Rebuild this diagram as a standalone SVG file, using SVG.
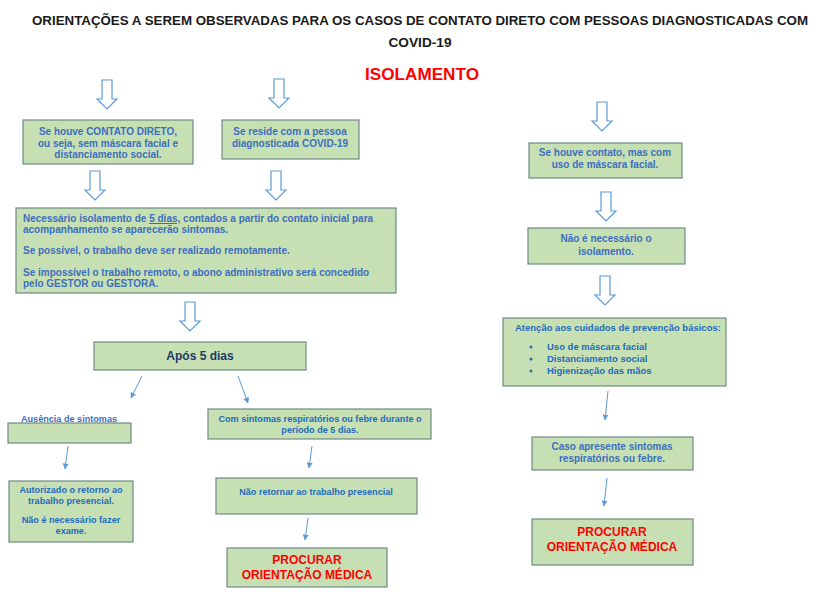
<svg xmlns="http://www.w3.org/2000/svg" width="835" height="600" viewBox="0 0 835 600">
<style>
.box{fill:#c6e0b4;stroke:#6f8a86;stroke-width:1.2}
.t{font-family:"Liberation Sans",Arial,sans-serif;font-weight:bold;font-size:10px;fill:#3d6ebf}
.tb{font-family:"Liberation Sans",Arial,sans-serif;font-weight:bold;font-size:9.1px;fill:#1f6bbd}
.c{text-anchor:middle}
.red{font-family:"Liberation Sans",Arial,sans-serif;font-weight:bold;font-size:12px;fill:#ff0000;text-anchor:middle}
.blk{fill:#ffffff;stroke:#5b9bd5;stroke-width:1.2;stroke-linejoin:miter}
.thin{stroke:#5b9bd5;stroke-width:1;fill:none;marker-end:url(#ah)}
</style>
<defs>
<path id="barrow" d="M-5,0 L5,0 L5,19 L10,19 L0,29 L-10,19 L-5,19 Z"/>
<marker id="ah" viewBox="0 0 10 10" refX="9" refY="5" markerWidth="6" markerHeight="6" orient="auto" markerUnits="userSpaceOnUse">
<path d="M0,0 L10,5 L0,10 Z" fill="#5b9bd5"/>
</marker>
</defs>
<rect width="835" height="600" fill="#ffffff"/>

<g id="title">
<text x="420" y="25" text-anchor="middle" textLength="776" lengthAdjust="spacingAndGlyphs" style="font-family:'Liberation Sans',Arial,sans-serif;font-weight:bold;font-size:13.5px;fill:#1a1a1a">ORIENTAÇÕES A SEREM OBSERVADAS PARA OS CASOS DE CONTATO DIRETO COM PESSOAS DIAGNOSTICADAS COM</text>
<text x="420" y="47" text-anchor="middle" textLength="63" lengthAdjust="spacingAndGlyphs" style="font-family:'Liberation Sans',Arial,sans-serif;font-weight:bold;font-size:13.5px;fill:#1a1a1a">COVID-19</text>
<text x="422" y="80" text-anchor="middle" textLength="114" lengthAdjust="spacingAndGlyphs" style="font-family:'Liberation Sans',Arial,sans-serif;font-weight:bold;font-size:17px;fill:#ff0000">ISOLAMENTO</text>
</g>

<g id="connectors">
<use href="#barrow" class="blk" transform="translate(107,80)"/>
<use href="#barrow" class="blk" transform="translate(279,79)"/>
<use href="#barrow" class="blk" transform="translate(95,171)"/>
<use href="#barrow" class="blk" transform="translate(276,171)"/>
<use href="#barrow" class="blk" transform="translate(190,302)"/>
<use href="#barrow" class="blk" transform="translate(602,102)"/>
<use href="#barrow" class="blk" transform="translate(606,192)"/>
<use href="#barrow" class="blk" transform="translate(605,276)"/>
<line class="thin" x1="142" y1="376" x2="131" y2="398"/>
<line class="thin" x1="238" y1="376" x2="248" y2="403"/>
<line class="thin" x1="68" y1="446" x2="65" y2="469"/>
<line class="thin" x1="312" y1="446" x2="309" y2="468"/>
<line class="thin" x1="308" y1="518" x2="305" y2="540"/>
<line class="thin" x1="608" y1="391" x2="605" y2="420"/>
<line class="thin" x1="607" y1="478" x2="604" y2="506"/>
</g>

<g id="n_contato_direto">
<rect class="box" x="23" y="120" width="170" height="44"/>
<text class="t c" x="108" y="135">Se houve CONTATO DIRETO,</text>
<text class="t c" x="108" y="147">ou seja, sem máscara facial e</text>
<text class="t c" x="108" y="158">distanciamento social.</text>
</g>

<g id="n_reside">
<rect class="box" x="222" y="120" width="137" height="39"/>
<text class="t c" x="290" y="135">Se reside com a pessoa</text>
<text class="t c" x="290" y="147">diagnosticada COVID-19</text>
</g>

<g id="n_isolamento">
<rect class="box" x="16" y="208" width="380" height="85"/>
<text class="t" x="23" y="222">Necessário isolamento de <tspan text-decoration="underline">5 dias,</tspan> contados a partir do contato inicial para</text>
<text class="t" x="23" y="233">acompanhamento se aparecerão sintomas.</text>
<text class="t" x="23" y="254">Se possível, o trabalho deve ser realizado remotamente.</text>
<text class="t" x="23" y="276">Se impossível o trabalho remoto, o abono administrativo será concedido</text>
<text class="t" x="23" y="287">pelo GESTOR ou GESTORA.</text>
</g>

<g id="n_apos5">
<rect class="box" x="94" y="342" width="212" height="28"/>
<text x="200" y="360" text-anchor="middle" style="font-family:'Liberation Sans',Arial,sans-serif;font-weight:bold;font-size:12px;fill:#1f3864">Após 5 dias</text>
</g>

<g id="n_ausencia">
<rect class="box" x="8" y="423" width="123" height="20"/>
<text class="t c" x="69" y="422" style="font-size:9.1px">Ausência de sintomas</text>
</g>

<g id="n_com_sintomas">
<rect class="box" x="208" y="409" width="223" height="30"/>
<text class="tb c" x="320" y="422">Com sintomas respiratórios ou febre durante o</text>
<text class="tb c" x="320" y="433">período de 5 dias.</text>
</g>

<g id="n_autorizado">
<rect class="box" x="9" y="481" width="124" height="61"/>
<text class="tb c" x="71" y="493">Autorizado o retorno ao</text>
<text class="tb c" x="71" y="504">trabalho presencial.</text>
<text class="tb c" x="71" y="523">Não é necessário fazer</text>
<text class="tb c" x="71" y="534">exame.</text>
</g>

<g id="n_nao_retornar">
<rect class="box" x="216" y="478" width="201" height="36"/>
<text class="tb c" x="316" y="495">Não retornar ao trabalho presencial</text>
</g>

<g id="n_procurar_esq">
<rect class="box" x="227" y="548" width="160" height="39"/>
<text class="red" x="307" y="564">PROCURAR</text>
<text class="red" x="307" y="579">ORIENTAÇÃO MÉDICA</text>
</g>

<g id="n_mascara">
<rect class="box" x="529" y="143" width="153" height="35"/>
<text class="t c" x="605" y="156">Se houve contato, mas com</text>
<text class="t c" x="605" y="168">uso de máscara facial.</text>
</g>

<g id="n_nao_necessario">
<rect class="box" x="528" y="228" width="157" height="36"/>
<text class="t c" x="606" y="242">Não é necessário o</text>
<text class="t c" x="606" y="255">isolamento.</text>
</g>

<g id="n_atencao">
<rect class="box" x="503" y="318" width="223" height="68"/>
<text class="tb" x="515" y="331" style="font-size:9.5px">Atenção aos cuidados de prevenção básicos:</text>
<circle cx="531" cy="347" r="1.5" fill="#1f6bbd"/>
<circle cx="531" cy="359" r="1.5" fill="#1f6bbd"/>
<circle cx="531" cy="371" r="1.5" fill="#1f6bbd"/>
<text class="tb" x="547" y="350" style="font-size:9.5px">Uso de máscara facial</text>
<text class="tb" x="547" y="362" style="font-size:9.5px">Distanciamento social</text>
<text class="tb" x="547" y="374" style="font-size:9.5px">Higienização das mãos</text>
</g>

<g id="n_caso">
<rect class="box" x="532" y="437" width="161" height="33"/>
<text class="t c" x="612" y="450">Caso apresente sintomas</text>
<text class="t c" x="612" y="462">respiratórios ou febre.</text>
</g>

<g id="n_procurar_dir">
<rect class="box" x="532" y="519" width="161" height="46"/>
<text class="red" x="612" y="536">PROCURAR</text>
<text class="red" x="612" y="551">ORIENTAÇÃO MÉDICA</text>
</g>
</svg>
